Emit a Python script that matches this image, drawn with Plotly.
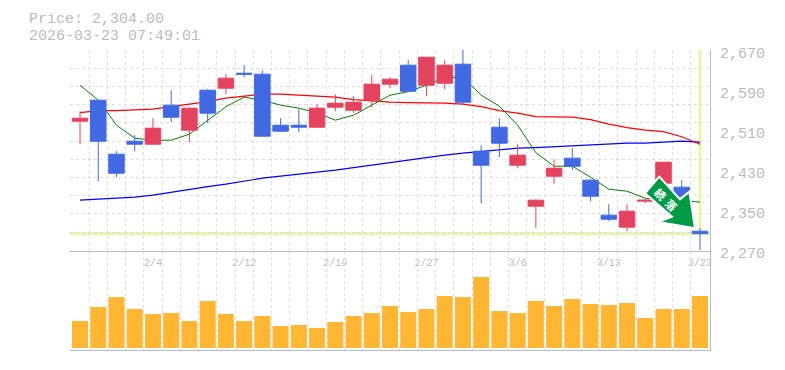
import plotly.graph_objects as go

dates = ["1/29","1/30","2/2","2/3","2/4","2/5","2/6","2/9","2/10","2/12","2/13","2/16","2/17","2/18","2/19",
         "2/20","2/24","2/25","2/26","2/27","3/2","3/3","3/4","3/5","3/6","3/9","3/10","3/11","3/12","3/13",
         "3/16","3/17","3/18","3/19","3/23"]
label_dates = ["2/4","2/12","2/19","2/27","3/6","3/13","3/23"]
open_ = [2529,2571,2463,2489,2483,2561,2511,2591,2595,2625,2623,2521,2521,2517,2557,2551,2571,2603,2641,2601,
         2605,2643,2469,2517,2441,2359,2419,2455,2411,2341,2317,2369,2405,2397,2309]
high = [2549,2571,2469,2501,2535,2591,2557,2593,2623,2641,2631,2535,2553,2563,2583,2579,2621,2617,2651,2657,
        2651,2672,2481,2535,2483,2373,2453,2475,2413,2363,2363,2373,2447,2411,2315]
low = [2483,2409,2417,2469,2483,2527,2487,2525,2583,2617,2499,2507,2507,2517,2549,2545,2557,2595,2589,2579,
       2593,2561,2365,2457,2435,2315,2403,2431,2369,2329,2309,2365,2400,2375,2271]
close = [2535,2489,2425,2483,2515,2537,2555,2545,2615,2623,2499,2509,2517,2555,2565,2567,2603,2613,2589,2657,
         2641,2567,2441,2485,2461,2371,2435,2439,2379,2333,2349,2371,2447,2378,2304]
ma_short = [2601,2571,2521,2495,2491,2491,2503,2531,2558,2577,2571,2561,2555,2546,2531,2541,2561,2581,2588,2601,
            2616,2617,2581,2559,2521,2466,2439,2439,2417,2393,2389,2375,2371,2371,2367]
ma_mid = [2546,2550,2550,2551,2553,2558,2563,2568,2575,2579,2583,2583,2581,2578,2577,2572,2569,2567,2566,2566,
          2565,2563,2558,2550,2545,2538,2537,2537,2532,2523,2516,2511,2508,2498,2483]
ma_long = [2371,2373,2374,2377,2381,2387,2393,2398,2403,2409,2415,2419,2423,2426,2431,2436,2441,2446,2451,2457,
           2461,2465,2468,2472,2475,2476,2478,2480,2482,2484,2485,2485,2487,2489,2487]
volume = [81,123,153,117,102,105,81,141,102,81,96,66,69,60,78,96,105,126,108,117,
          156,153,213,111,105,141,126,147,132,129,135,90,117,117,156]
price_ticks = [2270,2350,2430,2510,2590,2670]
price_grid = [2307,2344,2380,2417,2453,2489,2526,2562,2598,2635,2671]
last_price = 2304

GREY = "#bbbbbb"
GRID = "#dddddd"
MONO = "Liberation Mono"
idx = list(range(len(dates)))
x_range = [-0.55, 34.55]
x_grid = [i - 0.5 for i in idx]
price_range = [2270, 2671.4]
split = 0.331

def px(x, y):
    return f"{(x-70)/640:.4f},{(350-y)/300:.4f}"

fig = go.Figure()
fig.add_trace(go.Scatter(x=idx, y=ma_long, mode="lines", line=dict(color="#0000ff", width=1.2), xaxis="x", yaxis="y"))
fig.add_trace(go.Scatter(x=idx, y=ma_mid, mode="lines", line=dict(color="#ff0000", width=1.2), xaxis="x", yaxis="y"))
fig.add_trace(go.Scatter(x=idx, y=ma_short, mode="lines", line=dict(color="#008000", width=1), xaxis="x", yaxis="y"))
fig.add_trace(go.Candlestick(
    x=idx, open=open_, high=high, low=low, close=close, xaxis="x", yaxis="y3", whiskerwidth=0,
    increasing=dict(line=dict(color="#e4435f", width=1), fillcolor="#e4435f"),
    decreasing=dict(line=dict(color="#4169e1", width=1), fillcolor="#4169e1"),
))
fig.add_trace(go.Bar(x=idx, y=volume, marker=dict(color="#ffb733", line=dict(width=0)), xaxis="x2", yaxis="y2"))

arrow = "M " + " L ".join(px(*p) for p in [
    (659.3,176.7),(645,193.3),(672,216.7),(658.3,222),(695,228.3),(689.3,191.7),(680,199.3)]) + " Z"

axis_common = dict(range=x_range, showgrid=False, zeroline=False, ticks="", showline=True,
                   linecolor=GREY, linewidth=1,
                   minor=dict(tickvals=x_grid, showgrid=True, gridcolor=GRID, griddash="3px,3px", gridwidth=1, ticks=""))

fig.update_layout(
    width=785, height=370, margin=dict(l=62, r=83, t=42, b=28, pad=0),
    paper_bgcolor="white", plot_bgcolor="white", showlegend=False, boxgap=0.15, boxgroupgap=0, bargap=0.12,
    font=dict(family=MONO, color=GREY),
    xaxis=dict(axis_common, domain=[0,1], anchor="y", tickmode="array",
               tickvals=[dates.index(d) for d in label_dates], ticktext=label_dates, ticklabelstandoff=2,
               tickfont=dict(family=MONO, size=10, color=GREY), rangeslider=dict(visible=False)),
    xaxis2=dict(axis_common, domain=[0,1], anchor="y2", showticklabels=False),
    yaxis=dict(domain=[split,1], range=price_range, side="right", anchor="x", zeroline=False, showgrid=False,
               tickmode="array", tickvals=price_ticks, tickformat=",d", ticks="", showline=True,
               linecolor=GREY, linewidth=1, ticklabelstandoff=6, ticklabelshift=2,
               tickfont=dict(family=MONO, size=15, color=GREY),
               minor=dict(tickvals=price_grid, showgrid=True, gridcolor=GRID, griddash="3px,3px", gridwidth=1, ticks="")),
    yaxis2=dict(domain=[0,split], range=[-6, 291.9], side="right", anchor="x2", showgrid=False, zeroline=False,
                showticklabels=False, ticks="", showline=True, linecolor=GREY, linewidth=1),
    yaxis3=dict(domain=[split,1], range=price_range, overlaying="y", side="right", anchor="x", visible=False),
    shapes=[
        dict(type="line", xref="x", yref="y", x0=x_range[0], x1=x_range[1], y0=last_price, y1=last_price,
             line=dict(color="#e6f5a8", width=3), layer="below"),
        dict(type="line", xref="x", yref="y", x0=idx[-1], x1=idx[-1], y0=last_price, y1=price_range[1],
             line=dict(color="#e6f5a8", width=3), layer="below"),
        dict(type="path", xref="paper", yref="paper", path=arrow, fillcolor="#009944",
             line=dict(color="white", width=2), layer="above"),
    ],
    annotations=[
        dict(text="Price: 2,304.00", xref="paper", yref="paper", x=(28-70)/640, y=(350-19)/300, xanchor="left",
             yanchor="middle", showarrow=False, height=13, borderpad=0, font=dict(family=MONO, size=15, color=GREY)),
        dict(text="2026-03-23 07:49:01", xref="paper", yref="paper", x=(28-70)/640, y=(350-36)/300, xanchor="left",
             yanchor="middle", showarrow=False, height=13, borderpad=0, font=dict(family=MONO, size=15, color=GREY)),
        dict(text="<b>続</b>", xref="paper", yref="paper", x=(660.7-70)/640, y=(350-194)/300, textangle=45,
             xanchor="center", yanchor="middle", showarrow=False,
             font=dict(family="Noto Sans CJK JP", size=11, color="white")),
        dict(text="<b>落</b>", xref="paper", yref="paper", x=(671.7-70)/640, y=(350-205)/300, textangle=45,
             xanchor="center", yanchor="middle", showarrow=False,
             font=dict(family="Noto Sans CJK JP", size=11, color="white")),
    ],
)
fig.write_html("out.html")
